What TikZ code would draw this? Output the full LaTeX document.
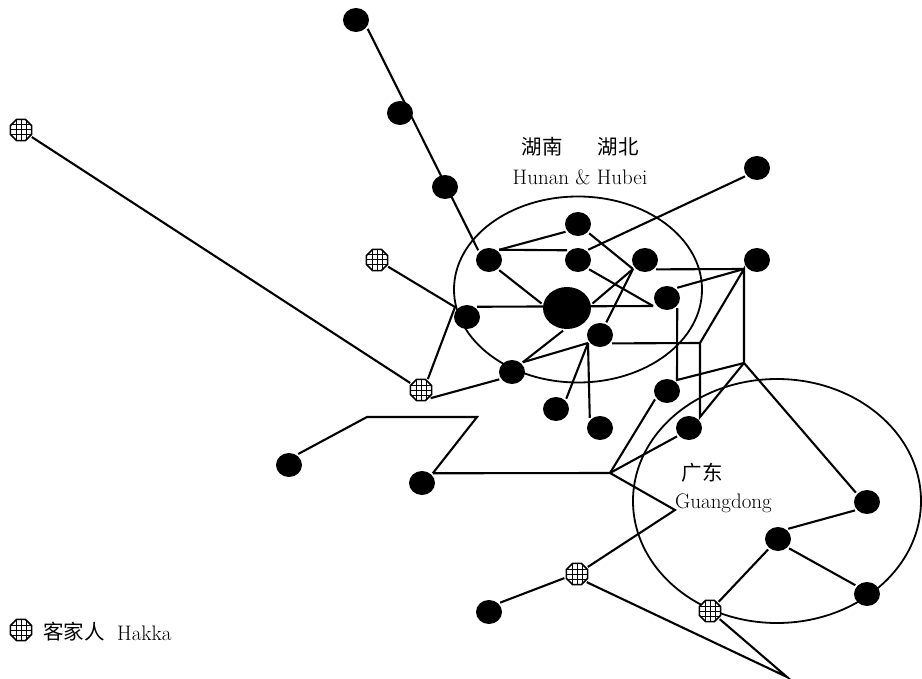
\documentclass[tikz,border=0pt]{standalone}
\usepackage{fontspec}
\usetikzlibrary{shapes.geometric}
\newfontfamily\cjk{Noto Sans CJK SC}
\tikzset{
  dot/.style={shape=ellipse,fill=black,draw=none,inner sep=0pt,outer sep=2pt,minimum width=26pt,minimum height=24pt},
  bigdot/.style={dot,minimum width=48pt,minimum height=42pt},
  hakka/.style={shape=regular polygon,regular polygon sides=8,draw=black,line width=1.7pt,fill=white,inner sep=0pt,outer sep=2pt,minimum size=23pt,
    path picture={
      \foreach \k in {-5,0,5}{
        \draw[line width=1pt] ([xshift=\k pt]path picture bounding box.north) -- ([xshift=\k pt]path picture bounding box.south);
        \draw[line width=1pt] ([yshift=\k pt]path picture bounding box.west) -- ([yshift=\k pt]path picture bounding box.east);
      }}},
  link/.style={line width=2.1pt,line join=miter},
  region/.style={draw=black,line width=1.8pt,fill=none},
  label/.style={font=\fontsize{21}{24}\selectfont,inner sep=0pt},
  cjklabel/.style={font=\cjk\fontsize{20.5}{24}\selectfont,inner sep=0pt}
}
\begin{document}
\begin{tikzpicture}[x=1pt,y=-1pt]
\useasboundingbox (0,0) rectangle (922,679);
\draw[region] (578,289.5) ellipse [x radius=124,y radius=93];
\draw[region] (777,501) ellipse [x radius=144,y radius=122];
% dots
\foreach \n/\x/\y in {a1/356/20,a2/400/113,a3/445/187,n1/489/260,n2/578/224,n3/578/260,n4/645/260,n5/757/260,n6/667/298,n7/467/317,n8/600/335,n9/512/372,n10/556/409,n11/600/428,n12/667/391,n13/689/428,n14/289/465,n15/422/483,n16/489/612,n17/757/168,g1/867/502,g2/778/539,g3/867/594}
  \node[dot] (\n) at (\x,\y) {};
\node[bigdot] (big) at (567,308) {};
% hakka
\foreach \n/\x/\y in {h1/21/130,h2/377/260,h3/421/390,h4/577/574,h5/710/611,hl/21/630}
  \node[hakka] (\n) at (\x,\y) {};
% junctions
\coordinate (J1) at (455,307);
\coordinate (J2) at (653,306);
\coordinate (J3) at (633,269);
\coordinate (J4) at (744,269);
\coordinate (J5) at (700,343);
\coordinate (J7) at (700,417);
\coordinate (J8) at (744,363);
\coordinate (J9) at (677,380);
\coordinate (J10) at (610,473);
\coordinate (J11) at (477,417);
\coordinate (J12) at (367,417);
\coordinate (J13) at (675,510);
\coordinate (J14) at (787,677);
\coordinate (Q) at (588,343);
% links
\draw[link] (a1.-37) -- (n1.138);
\draw[link] (h1) -- (h3);
\draw[link] (h2) -- (J1) -- (h3.58);
\draw[link] (h3.-40) -- (n9.210);
\draw[link] (n7.45) -- (J2);
\draw[link] (n3.-40) -- (J2);
\draw[link] (n1.-45) -- (big.170);
\draw[link] (n1.45) -- (n2.212);
\draw[link] (n1.45) -- (n3.138);
\draw[link] (n2.-40) -- (J3);
\draw[link] (J3) -- (big.10);
\draw[link] (J3) -- (n8);
\draw[link] (n3.45) -- (n17.215);
\draw[link] (n4.-40) -- (J4);
\draw[link] (n6.45) -- (J4);
\draw[link] (n8.-35) -- (J5) -- (J7) -- (J8) -- (J4) -- (J5);
\draw[link] (J8) -- (J9) -- (n6.-45);
\draw[link] (J8) -- (g1.140);
\draw[link] (n13.215) -- (J10);
\draw[link] (n12.215) -- (J10);
\draw[link] (n15.42) -- (J10);
\draw[link] (n15.42) -- (J11) -- (J12) -- (n14.50);
\draw[link] (J10) -- (J13) -- (h4);
\draw[link] (h4.198) -- (n16.40);
\draw[link] (h4.-40) -- (J14) -- (h5.-40);
\draw[link] (h5) -- (g2);
\draw[link] (g2.45) -- (g1.215);
\draw[link] (g2.-40) -- (g3.143);
\draw[link] (big.-100) -- (n9.42);
\draw[link] (n9.42) -- (Q);
\draw[link] (Q) -- (n10.45);
\draw[link] (Q) -- (n11.135);
% labels
\node[cjklabel] (t1) at (542,147) {湖南};
\node[cjklabel] (t2) at (618,147) {湖北};
\node[label] (t3) at (580,177) {Hunan \& Hubei};
\node[cjklabel] (t4) at (702,473) {广东};
\node[label] (t5) at (723.5,503) {Guangdong};
\node[cjklabel,anchor=west] (t6) at (43,632) {客家人};
\node[label,anchor=west] (t7) at (117,633) {Hakka};
\end{tikzpicture}
\end{document}
